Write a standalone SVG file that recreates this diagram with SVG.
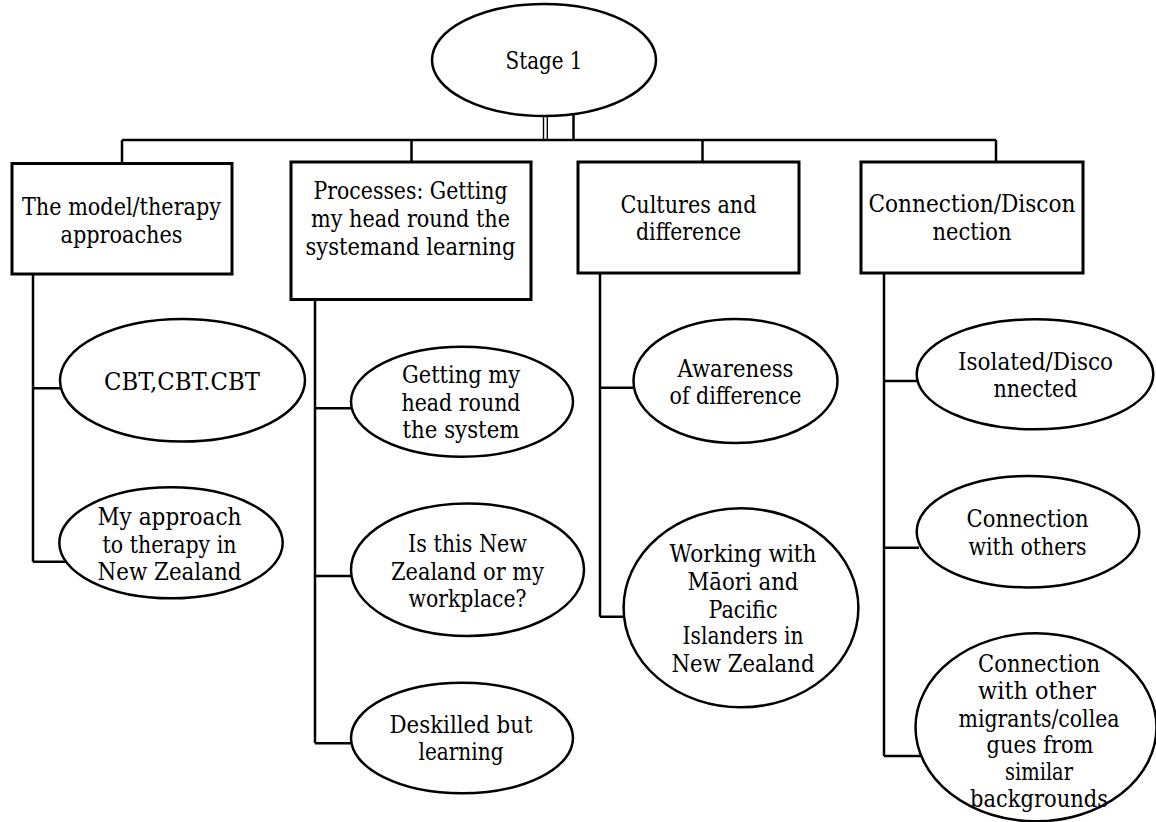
<svg xmlns="http://www.w3.org/2000/svg" width="1156" height="822" viewBox="0 0 1156 822">
  <style>
    .bg { fill: #ffffff; }
    .box { fill: #ffffff; stroke: #000000; stroke-width: 3; }
    .oval { fill: #ffffff; stroke: #000000; stroke-width: 2.5; }
    .wire { fill: none; stroke: #000000; stroke-width: 2.5; }
    .thin { fill: none; stroke: #000000; stroke-width: 1.4; }
    .t { font-size: 23.5px; fill: #000000; text-anchor: middle; }
  </style>
  <rect class="bg" x="0" y="0" width="1156" height="822"/>

  <!-- connectors: trunk from the root, the horizontal bus, and one spine per column -->
  <g id="connectors">
    <path class="thin" d="M543.5 112 V140 M547.3 113 V140"/>
    <path class="wire" d="M573.5 111 V140"/>
    <path class="wire" d="M122 140 H996 M122 140 V164 M411.5 140 V162 M702.5 140 V162 M996 140 V162"/>
    <!-- column 1 -->
    <path class="wire" d="M33 274 V561.7 M33 388.3 H62 M33 561.7 H68"/>
    <!-- column 2 -->
    <path class="wire" d="M315 299 V743.3 M315 408.3 H353 M315 576 H353 M315 743.3 H353"/>
    <!-- column 3 -->
    <path class="wire" d="M600 273 V616.7 M600 387.7 H636 M600 616.7 H626"/>
    <!-- column 4 -->
    <path class="wire" d="M884 273 V756 M884 381 H919 M884 547.7 H919 M884 756 H923"/>
  </g>

  <g id="stage1" font-family="DejaVu Serif, serif">
    <ellipse class="oval" cx="544" cy="60" rx="112" ry="56"/>
    <text class="t" x="544" y="69" textLength="77" lengthAdjust="spacingAndGlyphs">Stage 1</text>
  </g>

  <!-- theme boxes -->
  <g id="theme-model" font-family="DejaVu Serif, serif">
    <rect class="box" x="12" y="163.5" width="220" height="110.5"/>
    <text class="t" x="121.5" y="215" textLength="199" lengthAdjust="spacingAndGlyphs">The model/therapy</text>
    <text class="t" x="121.5" y="243" textLength="122" lengthAdjust="spacingAndGlyphs">approaches</text>
  </g>
  <g id="theme-processes" font-family="DejaVu Serif, serif">
    <rect class="box" x="291" y="162" width="240" height="137.5"/>
    <text class="t" x="410.5" y="199" textLength="194" lengthAdjust="spacingAndGlyphs">Processes: Getting</text>
    <text class="t" x="410.5" y="227" textLength="199" lengthAdjust="spacingAndGlyphs">my head round the</text>
    <text class="t" x="410.5" y="255" textLength="210" lengthAdjust="spacingAndGlyphs">systemand learning</text>
  </g>
  <g id="theme-cultures" font-family="DejaVu Serif, serif">
    <rect class="box" x="578" y="162" width="221" height="111"/>
    <text class="t" x="688.5" y="212.5" textLength="136" lengthAdjust="spacingAndGlyphs">Cultures and</text>
    <text class="t" x="688.5" y="240" textLength="105" lengthAdjust="spacingAndGlyphs">difference</text>
  </g>
  <g id="theme-connection" font-family="DejaVu Serif, serif">
    <rect class="box" x="861" y="162" width="222" height="111"/>
    <text class="t" x="972" y="211.5" textLength="207" lengthAdjust="spacingAndGlyphs">Connection/Discon</text>
    <text class="t" x="972" y="240" textLength="79" lengthAdjust="spacingAndGlyphs">nection</text>
  </g>

  <!-- column 1 subthemes -->
  <g id="cbt" font-family="DejaVu Serif, serif">
    <ellipse class="oval" cx="182.5" cy="380.3" rx="122.5" ry="61.3"/>
    <text class="t" x="182" y="390" textLength="156" lengthAdjust="spacingAndGlyphs">CBT,CBT.CBT</text>
  </g>
  <g id="my-approach" font-family="DejaVu Serif, serif">
    <ellipse class="oval" cx="171" cy="542.8" rx="111.7" ry="55.5"/>
    <text class="t" x="169.5" y="525" textLength="144" lengthAdjust="spacingAndGlyphs">My approach</text>
    <text class="t" x="169.5" y="552.7" textLength="134" lengthAdjust="spacingAndGlyphs">to therapy in</text>
    <text class="t" x="169.5" y="580" textLength="144" lengthAdjust="spacingAndGlyphs">New Zealand</text>
  </g>

  <!-- column 2 subthemes -->
  <g id="head-round" font-family="DejaVu Serif, serif">
    <ellipse class="oval" cx="462" cy="401.7" rx="111" ry="55"/>
    <text class="t" x="461" y="383.3" textLength="118" lengthAdjust="spacingAndGlyphs">Getting my</text>
    <text class="t" x="461" y="411" textLength="119" lengthAdjust="spacingAndGlyphs">head round</text>
    <text class="t" x="461" y="438" textLength="117" lengthAdjust="spacingAndGlyphs">the system</text>
  </g>
  <g id="nz-or-workplace" font-family="DejaVu Serif, serif">
    <ellipse class="oval" cx="467.5" cy="569.7" rx="116.5" ry="66.3"/>
    <text class="t" x="467.5" y="551.7" textLength="119" lengthAdjust="spacingAndGlyphs">Is this New</text>
    <text class="t" x="467.5" y="580" textLength="153" lengthAdjust="spacingAndGlyphs">Zealand or my</text>
    <text class="t" x="467.5" y="607.3" textLength="118" lengthAdjust="spacingAndGlyphs">workplace?</text>
  </g>
  <g id="deskilled" font-family="DejaVu Serif, serif">
    <ellipse class="oval" cx="462" cy="738" rx="111" ry="55.3"/>
    <text class="t" x="461" y="733.3" textLength="143" lengthAdjust="spacingAndGlyphs">Deskilled but</text>
    <text class="t" x="461" y="760" textLength="85" lengthAdjust="spacingAndGlyphs">learning</text>
  </g>

  <!-- column 3 subthemes -->
  <g id="awareness" font-family="DejaVu Serif, serif">
    <ellipse class="oval" cx="735.5" cy="381" rx="102" ry="62"/>
    <text class="t" x="735.5" y="377.3" textLength="116" lengthAdjust="spacingAndGlyphs">Awareness</text>
    <text class="t" x="735.5" y="404.3" textLength="132" lengthAdjust="spacingAndGlyphs">of difference</text>
  </g>
  <g id="maori-pacific" font-family="DejaVu Serif, serif">
    <ellipse class="oval" cx="741" cy="607.8" rx="117.4" ry="99.5"/>
    <text class="t" x="743" y="561.7" textLength="147" lengthAdjust="spacingAndGlyphs">Working with</text>
    <text class="t" x="743" y="590" textLength="111" lengthAdjust="spacingAndGlyphs">Māori and</text>
    <text class="t" x="743" y="617.7" textLength="69" lengthAdjust="spacingAndGlyphs">Pacific</text>
    <text class="t" x="743" y="644.3" textLength="121" lengthAdjust="spacingAndGlyphs">Islanders in</text>
    <text class="t" x="743" y="671.7" textLength="143" lengthAdjust="spacingAndGlyphs">New Zealand</text>
  </g>

  <!-- column 4 subthemes -->
  <g id="isolated" font-family="DejaVu Serif, serif">
    <ellipse class="oval" cx="1035" cy="374.3" rx="118.3" ry="55"/>
    <text class="t" x="1035.5" y="370" textLength="155" lengthAdjust="spacingAndGlyphs">Isolated/Disco</text>
    <text class="t" x="1035.5" y="397.3" textLength="84" lengthAdjust="spacingAndGlyphs">nnected</text>
  </g>
  <g id="connection-others" font-family="DejaVu Serif, serif">
    <ellipse class="oval" cx="1028" cy="531.7" rx="111.3" ry="55.7"/>
    <text class="t" x="1027.5" y="526.7" textLength="122" lengthAdjust="spacingAndGlyphs">Connection</text>
    <text class="t" x="1027.5" y="555" textLength="118" lengthAdjust="spacingAndGlyphs">with others</text>
  </g>
  <g id="connection-migrants" font-family="DejaVu Serif, serif">
    <ellipse class="oval" cx="1036" cy="727.3" rx="120.5" ry="94"/>
    <text class="t" x="1039" y="671.7" textLength="122" lengthAdjust="spacingAndGlyphs">Connection</text>
    <text class="t" x="1037" y="699.3" textLength="118" lengthAdjust="spacingAndGlyphs">with other</text>
    <text class="t" x="1039" y="726.7" textLength="161" lengthAdjust="spacingAndGlyphs">migrants/collea</text>
    <text class="t" x="1040" y="753.3" textLength="107" lengthAdjust="spacingAndGlyphs">gues from</text>
    <text class="t" x="1039" y="780" textLength="68" lengthAdjust="spacingAndGlyphs">similar</text>
    <text class="t" x="1039" y="806.7" textLength="138" lengthAdjust="spacingAndGlyphs">backgrounds</text>
  </g>
</svg>
